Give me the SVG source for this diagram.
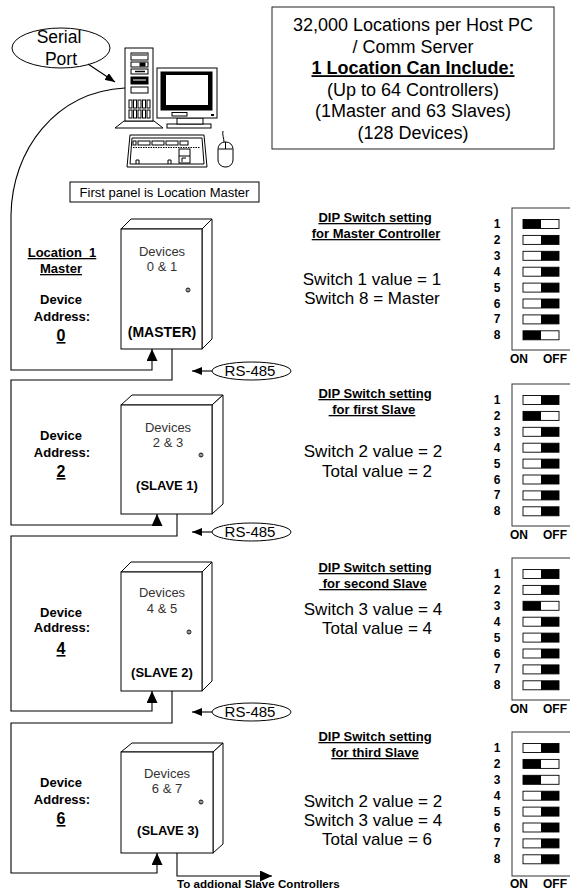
<svg xmlns="http://www.w3.org/2000/svg" width="570" height="894" viewBox="0 0 570 894">
  <defs>
    <style>
      .t { font-family: "Liberation Sans", Arial, sans-serif; fill: #000; }
      .b { font-weight: bold; }
      .c { text-anchor: middle; }
      .u { text-decoration: underline; }
      .pre { white-space: pre; }
      .ln { fill: none; stroke: #000; stroke-width: 1.1; }
      .box { fill: #fff; stroke: #000; stroke-width: 1; }
      .dev { font-size: 13px; fill: #333; }
      .sw { font-size: 17px; }
      .hd { font-size: 13px; }
      .num { font-size: 12px; font-weight: bold; text-anchor: middle; }
      .lbl { font-size: 13px; font-weight: bold; text-anchor: middle; }
      .addr { font-size: 16px; font-weight: bold; text-anchor: middle; text-decoration: underline; }
      .frame { fill: none; stroke: #333; stroke-width: 1; }
      .sq { fill: #fff; stroke: #000; stroke-width: 0.9; }
    </style>
    <marker id="head" viewBox="0 0 12 11" refX="12" refY="5.5" markerWidth="12" markerHeight="11" orient="auto" markerUnits="userSpaceOnUse">
      <path d="M0,0 L12,5.5 L0,11 Z" fill="#000"/>
    </marker>
    <marker id="small" viewBox="0 0 10 8" refX="10" refY="4" markerWidth="10" markerHeight="8" orient="auto" markerUnits="userSpaceOnUse">
      <path d="M0,0 L10,4 L0,8 Z" fill="#000"/>
    </marker>
    <!-- one DIP switch slide: ON half filled (left) -->
    <g id="sw-on">
      <rect class="sq" x="0" y="0" width="36" height="9"/>
      <rect x="0" y="0" width="18" height="9" fill="#000"/>
    </g>
    <!-- OFF: right half filled -->
    <g id="sw-off">
      <rect class="sq" x="0" y="0" width="36" height="9"/>
      <rect x="18" y="0" width="18" height="9" fill="#000"/>
    </g>
  </defs>

  <rect width="570" height="894" fill="#fff"/>

  <!-- summary box -->
  <g id="summary">
    <rect x="272" y="7" width="282" height="142" fill="#fff" stroke="#222" stroke-width="1"/>
    <text class="t c" x="413" y="31" font-size="18">32,000 Locations per Host PC</text>
    <text class="t c" x="413" y="52.6" font-size="18">/ Comm Server</text>
    <text class="t c b u" x="413" y="74.2" font-size="18">1 Location Can Include:</text>
    <text class="t c" x="413" y="95.8" font-size="18">(Up to 64 Controllers)</text>
    <text class="t c" x="413" y="117.4" font-size="18">(1Master and 63 Slaves)</text>
    <text class="t c" x="413" y="139" font-size="18">(128 Devices)</text>
  </g>

  <!-- host PC -->
  <g id="host-pc" stroke="#000" stroke-width="1" fill="#fff">
    <!-- tower -->
    <polygon points="115,128 124,121 154,121 163,128"/>
    <rect x="125" y="48" width="28" height="73"/>
    <rect x="131" y="53" width="17" height="7"/>
    <line x1="132" y1="55" x2="147" y2="55"/>
    <rect x="131" y="62" width="17" height="5"/>
    <rect x="140" y="63" width="5" height="3" fill="#000"/>
    <rect x="131" y="69" width="17" height="5"/>
    <line x1="135" y1="71.5" x2="145" y2="71.5" stroke-width="1.5"/>
    <rect x="131" y="77" width="17" height="7" fill="#000"/>
    <line x1="133" y1="80" x2="146" y2="80" stroke="#fff"/>
    <rect x="131" y="87" width="17" height="6"/>
    <g stroke-width="1">
      <rect x="129" y="100" width="3" height="8"/><rect x="133.5" y="100" width="3" height="8"/><rect x="138" y="100" width="3" height="8"/><rect x="142.5" y="100" width="3" height="8"/><rect x="147" y="100" width="3" height="8"/>
      <rect x="129" y="110" width="3" height="8"/><rect x="133.5" y="110" width="3" height="8"/><rect x="138" y="110" width="3" height="8"/><rect x="142.5" y="110" width="3" height="8"/><rect x="147" y="110" width="3" height="8"/>
    </g>
    <!-- monitor -->
    <rect x="167" y="124" width="44" height="4"/>
    <rect x="177" y="118" width="26" height="6"/>
    <rect x="157" y="68" width="60" height="50"/>
    <rect x="161" y="72" width="51" height="38" fill="#000"/>
    <rect x="166" y="75" width="42" height="30" fill="#fff" stroke="none"/>
    <rect x="172" y="112.5" width="15" height="3.5"/>
    <rect x="211" y="114" width="3" height="2" fill="#000" stroke="none"/>
    <!-- keyboard -->
    <path d="M130,135 L204,135 L207,167 L127,167 Z"/>
    <path d="M132,138 L202,138 L204,164 L130,164 Z"/>
    <rect x="133" y="141" width="3" height="4"/>
    <rect x="138" y="141" width="12" height="4"/>
    <rect x="152" y="141" width="12" height="4"/>
    <rect x="166" y="141" width="12" height="4"/>
    <rect x="180" y="141" width="8" height="4"/>
    <line x1="133" y1="147.5" x2="200" y2="147.5" stroke-dasharray="1.5,1"/>
    <rect x="179" y="149" width="11" height="14"/>
    <line x1="179" y1="156" x2="190" y2="156"/>
    <path d="M136,164 L136,160 L139,160 L139,164 M168,164 L168,160 L171,160 L171,164" fill="none"/>
    <path d="M182,162 L182,158 L186,158" fill="none"/>
    <!-- mouse -->
    <path d="M224,142 C224,138 222,135 223,131" fill="none"/>
    <rect x="218" y="142" width="15" height="25" rx="7" ry="7"/>
    <line x1="218.5" y1="149" x2="232.5" y2="149"/>
    <line x1="225.5" y1="142" x2="225.5" y2="149"/>
  </g>

  <!-- serial port callout -->
  <g id="serial-port">
    <ellipse cx="61" cy="48" rx="49" ry="20" fill="#fff" stroke="#000" stroke-width="1"/>
    <text class="t c" x="59" y="43" font-size="17.5">Serial</text>
    <text class="t c" x="61" y="65" font-size="17.5">Port</text>
  </g>

  <!-- location master caption -->
  <g id="caption">
    <rect x="70" y="182" width="189" height="20" fill="#fff" stroke="#000" stroke-width="1"/>
    <text class="t c" x="164.5" y="196.5" font-size="13">First panel is Location Master</text>
  </g>

  <!-- RS-485 bus wiring -->
  <g id="connectors">
    <path class="ln" d="M88,64 L115,82" marker-end="url(#small)"/>
    <path class="ln" d="M125,88 C55,92 12,150 11,215 L11,370 L152,370 L152,349" marker-end="url(#head)"/>
    <path class="ln" d="M172,349 L172,380 L11,380 L11,525 L157,525 L157,514" marker-end="url(#head)"/>
    <path class="ln" d="M177,514 L177,536 L11,536 L11,711 L152,711 L152,691" marker-end="url(#head)"/>
    <path class="ln" d="M172,691 L172,723 L11,723 L11,873 L157,873 L157,853" marker-end="url(#head)"/>
    <path class="ln" d="M177,853 L177,876 L272,876" marker-end="url(#head)"/>
    <path class="ln" d="M212,371 L192,371" marker-end="url(#small)"/>
    <path class="ln" d="M212,532 L192,532" marker-end="url(#small)"/>
    <path class="ln" d="M212,712 L192,712" marker-end="url(#small)"/>
  </g>

  <g id="rs485-1">
    <ellipse cx="251.5" cy="371" rx="39.5" ry="9" fill="#fff" stroke="#000" stroke-width="1"/>
    <text class="t c" x="250" y="376" font-size="15">RS-485</text>
  </g>
  <g id="rs485-2">
    <ellipse cx="251.5" cy="532" rx="39.5" ry="9" fill="#fff" stroke="#000" stroke-width="1"/>
    <text class="t c" x="250" y="537" font-size="15">RS-485</text>
  </g>
  <g id="rs485-3">
    <ellipse cx="251.5" cy="712" rx="39.5" ry="9" fill="#fff" stroke="#000" stroke-width="1"/>
    <text class="t c" x="250" y="717" font-size="15">RS-485</text>
  </g>

  <text class="t b" x="177" y="888" font-size="11.6">To addional Slave Controllers</text>

  <!-- master controller enclosure -->
  <g id="master">
    <polygon class="box" points="121,229 131,219 212,219 202,229"/>
    <polygon class="box" points="202,229 212,219 212,339 202,349"/>
    <rect class="box" x="121" y="229" width="81" height="120"/>
    <text class="t c dev" x="162" y="256">Devices</text>
    <text class="t c dev" x="162" y="271">0 &amp; 1</text>
    <circle cx="188" cy="290" r="2" fill="#fff" stroke="#000" stroke-width="0.9"/>
    <line x1="188" y1="288" x2="188" y2="292" stroke="#000" stroke-width="0.8"/>
    <text class="t c b" x="162" y="337" font-size="14">(MASTER)</text>
    <text class="t lbl u pre" x="62" y="257">Location  1</text>
    <text class="t lbl u" x="61" y="273">Master</text>
    <text class="t lbl" x="61" y="304">Device</text>
    <text class="t lbl" x="62" y="321">Address:</text>
    <text class="t addr" x="61" y="341">0</text>
  </g>

  <!-- slave 1 enclosure -->
  <g id="slave1">
    <polygon class="box" points="121,405 132,395 223,395 212,405"/>
    <polygon class="box" points="212,405 223,395 223,504 212,514"/>
    <rect class="box" x="121" y="405" width="91" height="109"/>
    <text class="t c dev" x="168" y="432">Devices</text>
    <text class="t c dev" x="168" y="447">2 &amp; 3</text>
    <circle cx="201" cy="455" r="2" fill="#fff" stroke="#000" stroke-width="0.9"/>
    <line x1="201" y1="453" x2="201" y2="457" stroke="#000" stroke-width="0.8"/>
    <text class="t c b" x="167" y="490" font-size="13">(SLAVE 1)</text>
    <text class="t lbl" x="61" y="440">Device</text>
    <text class="t lbl" x="62" y="457">Address:</text>
    <text class="t addr" x="61" y="477">2</text>
  </g>

  <!-- slave 2 enclosure -->
  <g id="slave2">
    <polygon class="box" points="121,572 131,562 212,562 202,572"/>
    <polygon class="box" points="202,572 212,562 212,681 202,691"/>
    <rect class="box" x="121" y="572" width="81" height="119"/>
    <text class="t c dev" x="162" y="597">Devices</text>
    <text class="t c dev" x="162" y="613">4 &amp; 5</text>
    <circle cx="189" cy="632" r="2" fill="#fff" stroke="#000" stroke-width="0.9"/>
    <line x1="189" y1="630" x2="189" y2="634" stroke="#000" stroke-width="0.8"/>
    <text class="t c b" x="162" y="677" font-size="13">(SLAVE 2)</text>
    <text class="t lbl" x="61" y="617">Device</text>
    <text class="t lbl" x="62" y="632">Address:</text>
    <text class="t addr" x="61" y="654">4</text>
  </g>

  <!-- slave 3 enclosure -->
  <g id="slave3">
    <polygon class="box" points="121,752 132,743 223,743 213,752"/>
    <polygon class="box" points="213,752 223,743 223,844 213,853"/>
    <rect class="box" x="121" y="752" width="92" height="101"/>
    <text class="t c dev" x="167" y="778">Devices</text>
    <text class="t c dev" x="167" y="793">6 &amp; 7</text>
    <circle cx="201" cy="802" r="2" fill="#fff" stroke="#000" stroke-width="0.9"/>
    <line x1="201" y1="800" x2="201" y2="804" stroke="#000" stroke-width="0.8"/>
    <text class="t c b" x="168" y="835" font-size="13">(SLAVE 3)</text>
    <text class="t lbl" x="61" y="787">Device</text>
    <text class="t lbl" x="62" y="804">Address:</text>
    <text class="t addr" x="61" y="824">6</text>
  </g>

  <!-- DIP switch settings: master -->
  <g id="dip-master">
    <text class="t c b u hd" x="375" y="222">DIP Switch setting</text>
    <text class="t c b u hd" x="376" y="238">for Master Controller</text>
    <text class="t c sw" x="372" y="285">Switch 1 value = 1</text>
    <text class="t c sw" x="372" y="304">Switch 8 = Master</text>
    <rect class="frame" x="512" y="208" width="70" height="142"/>
    <g class="t">
      <text class="num" x="497" y="228">1</text><text class="num" x="497" y="243.9">2</text>
      <text class="num" x="497" y="259.8">3</text><text class="num" x="497" y="275.7">4</text>
      <text class="num" x="497" y="291.6">5</text><text class="num" x="497" y="307.5">6</text>
      <text class="num" x="497" y="323.4">7</text><text class="num" x="497" y="339.3">8</text>
    </g>
    <use href="#sw-on" x="523" y="219.5"/>
    <use href="#sw-off" x="523" y="235.4"/>
    <use href="#sw-off" x="523" y="251.3"/>
    <use href="#sw-off" x="523" y="267.2"/>
    <use href="#sw-off" x="523" y="283.1"/>
    <use href="#sw-off" x="523" y="299"/>
    <use href="#sw-off" x="523" y="314.9"/>
    <use href="#sw-on" x="523" y="330.8"/>
    <text class="t b" x="510" y="363" font-size="12">ON</text>
    <text class="t b" x="543" y="363" font-size="12">OFF</text>
  </g>

  <!-- DIP switch settings: slave 1 -->
  <g id="dip-slave1">
    <text class="t c b u hd" x="375" y="398">DIP Switch setting</text>
    <text class="t c b u hd pre" x="372" y="414"> for first Slave</text>
    <text class="t c sw" x="373" y="457">Switch 2 value = 2</text>
    <text class="t c sw" x="377" y="477">Total value = 2</text>
    <rect class="frame" x="512" y="384" width="70" height="142"/>
    <g class="t">
      <text class="num" x="497" y="404">1</text><text class="num" x="497" y="419.9">2</text>
      <text class="num" x="497" y="435.8">3</text><text class="num" x="497" y="451.7">4</text>
      <text class="num" x="497" y="467.6">5</text><text class="num" x="497" y="483.5">6</text>
      <text class="num" x="497" y="499.4">7</text><text class="num" x="497" y="515.3">8</text>
    </g>
    <use href="#sw-off" x="523" y="395.5"/>
    <use href="#sw-on" x="523" y="411.4"/>
    <use href="#sw-off" x="523" y="427.3"/>
    <use href="#sw-off" x="523" y="443.2"/>
    <use href="#sw-off" x="523" y="459.1"/>
    <use href="#sw-off" x="523" y="475"/>
    <use href="#sw-off" x="523" y="490.9"/>
    <use href="#sw-off" x="523" y="506.8"/>
    <text class="t b" x="510" y="539" font-size="12">ON</text>
    <text class="t b" x="543" y="539" font-size="12">OFF</text>
  </g>

  <!-- DIP switch settings: slave 2 -->
  <g id="dip-slave2">
    <text class="t c b u hd" x="375" y="572">DIP Switch setting</text>
    <text class="t c b u hd pre" x="373" y="588"> for second Slave</text>
    <text class="t c sw" x="373" y="615">Switch 3 value = 4</text>
    <text class="t c sw" x="377" y="634">Total value = 4</text>
    <rect class="frame" x="512" y="558" width="70" height="142"/>
    <g class="t">
      <text class="num" x="497" y="578">1</text><text class="num" x="497" y="593.9">2</text>
      <text class="num" x="497" y="609.8">3</text><text class="num" x="497" y="625.7">4</text>
      <text class="num" x="497" y="641.6">5</text><text class="num" x="497" y="657.5">6</text>
      <text class="num" x="497" y="673.4">7</text><text class="num" x="497" y="689.3">8</text>
    </g>
    <use href="#sw-off" x="523" y="569.5"/>
    <use href="#sw-off" x="523" y="585.4"/>
    <use href="#sw-on" x="523" y="601.3"/>
    <use href="#sw-off" x="523" y="617.2"/>
    <use href="#sw-off" x="523" y="633.1"/>
    <use href="#sw-off" x="523" y="649"/>
    <use href="#sw-off" x="523" y="664.9"/>
    <use href="#sw-off" x="523" y="680.8"/>
    <text class="t b" x="510" y="713" font-size="12">ON</text>
    <text class="t b" x="543" y="713" font-size="12">OFF</text>
  </g>

  <!-- DIP switch settings: slave 3 -->
  <g id="dip-slave3">
    <text class="t c b u hd" x="375" y="741">DIP Switch setting</text>
    <text class="t c b u hd" x="375" y="757">for third Slave</text>
    <text class="t c sw" x="373" y="807">Switch 2 value = 2</text>
    <text class="t c sw" x="373" y="826">Switch 3 value = 4</text>
    <text class="t c sw" x="377" y="845">Total value = 6</text>
    <rect class="frame" x="512" y="732" width="70" height="144"/>
    <g class="t">
      <text class="num" x="497" y="752">1</text><text class="num" x="497" y="767.9">2</text>
      <text class="num" x="497" y="783.8">3</text><text class="num" x="497" y="799.7">4</text>
      <text class="num" x="497" y="815.6">5</text><text class="num" x="497" y="831.5">6</text>
      <text class="num" x="497" y="847.4">7</text><text class="num" x="497" y="863.3">8</text>
    </g>
    <use href="#sw-off" x="523" y="743.5"/>
    <use href="#sw-on" x="523" y="759.4"/>
    <use href="#sw-on" x="523" y="775.3"/>
    <use href="#sw-off" x="523" y="791.2"/>
    <use href="#sw-off" x="523" y="807.1"/>
    <use href="#sw-off" x="523" y="823"/>
    <use href="#sw-off" x="523" y="838.9"/>
    <use href="#sw-off" x="523" y="854.8"/>
    <text class="t b" x="510" y="888" font-size="12">ON</text>
    <text class="t b" x="543" y="888" font-size="12">OFF</text>
  </g>
</svg>
